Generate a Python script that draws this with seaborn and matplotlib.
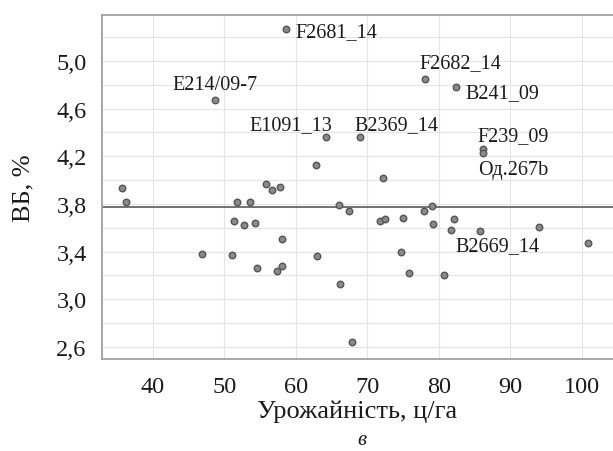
import numpy as np
import pandas as pd
import matplotlib
matplotlib.use("Agg")
import matplotlib.pyplot as plt
from matplotlib.ticker import MultipleLocator, FixedLocator, FuncFormatter
import seaborn as sns

# labelled varieties first, then the unlabelled ones
names = ["F2681_14", "E214/09-7", "E1091_13", "B2369_14", "F2682_14",
         "B241_09", "F239_09", "Од.267b", "B2669_14"] + [""] * 36

yield_x = [58.6, 48.7, 64.2, 68.9, 78.0, 82.4, 86.1, 86.15, 85.8,
           35.6, 36.2, 46.8, 51.0, 51.3, 51.7, 52.8, 53.6, 54.3, 54.55,
           55.85, 56.7, 57.8, 58.1, 57.4, 58.0, 62.8, 63.0, 66.0, 66.1,
           67.4, 67.9, 72.2, 71.75, 72.4, 74.7, 75.0, 75.8, 77.9, 79.0,
           79.2, 80.7, 81.7, 82.1, 94.0, 100.8]

vb_y = [5.27, 4.67, 4.36, 4.36, 4.85, 4.78, 4.26, 4.23, 3.57,
        3.93, 3.82, 3.38, 3.37, 3.66, 3.815, 3.62, 3.815, 3.64, 3.26,
        3.97, 3.92, 3.94, 3.51, 3.24, 3.28, 4.13, 3.36, 3.79, 3.13,
        3.74, 2.64, 4.02, 3.66, 3.67, 3.40, 3.685, 3.22, 3.74, 3.78,
        3.63, 3.20, 3.585, 3.67, 3.61, 3.47]

mean_vb = 3.773

x_ticks = [40, 50, 60, 70, 80, 90, 100]
y_ticks = [2.6, 3.0, 3.4, 3.8, 4.2, 4.6, 5.0]

# label placement (offset in points, horizontal alignment)
label_pos = {
    "F2681_14": (6.5, -2, "left"),
    "E214/09-7": (0, 11.5, "center"),
    "E1091_13": (4.5, 8.8, "right"),
    "B2369_14": (-3.8, 9, "left"),
    "F2682_14": (-4.1, 11.5, "left"),
    "B241_09": (6.8, -3.8, "left"),
    "F239_09": (-3.4, 9.6, "left"),
    "Од.267b": (-3.8, -12, "left"),
    "B2669_14": (-18.2, -10.1, "left"),
}

df = pd.DataFrame({"x": yield_x, "y": vb_y, "name": names})

sns.set_style("white")
plt.rcParams["font.family"] = ["Liberation Serif", "DejaVu Serif"]

fig = plt.figure(figsize=(6.13, 4.52), dpi=100)
ax = fig.add_axes([0.1664, 0.2035, 0.8336, 0.7611])

ax.axhline(mean_vb, color="#5a5a5a", lw=1.2, zorder=2)
sns.scatterplot(data=df, x="x", y="y", ax=ax, s=22, color="#8a8a8a",
                edgecolor="#555555", linewidth=1.0, zorder=3)

for _, r in df[df["name"] != ""].iterrows():
    dx, dy, ha = label_pos[r["name"]]
    ax.annotate(r["name"], (r["x"], r["y"]), xytext=(dx, dy),
                textcoords="offset points", ha=ha, va="center",
                fontsize=14.5, color="#1a1a1a")

ax.set_xlim(32.87, 104.34)
ax.set_ylim(2.499, 5.386)
ax.xaxis.set_major_locator(FixedLocator(x_ticks))
ax.yaxis.set_major_locator(FixedLocator(y_ticks))
ax.yaxis.set_minor_locator(MultipleLocator(0.2))
ax.yaxis.set_major_formatter(FuncFormatter(lambda v, p: f"{v:.1f}".replace(".", ",")))

ax.grid(True, which="major", color="#e4e4e4", lw=0.8)
ax.grid(True, which="minor", axis="y", color="#e4e4e4", lw=0.8)
ax.set_axisbelow(True)

for side in ["left", "bottom", "top"]:
    ax.spines[side].set_color("#a0a0a0")
    ax.spines[side].set_linewidth(1.3)
ax.spines["right"].set_visible(False)

ax.tick_params(axis="both", which="both", direction="in", color="#a0a0a0",
               length=3, labelsize=17.5, labelcolor="#1a1a1a")
ax.tick_params(axis="y", pad=11)
ax.tick_params(axis="x", pad=12)

ax.set_xlabel("Урожайність, ц/га", fontsize=19, color="#1a1a1a", labelpad=2)
ax.set_ylabel("ВБ, %", fontsize=19, color="#1a1a1a", labelpad=16)
fig.text(0.59, 1 - 441 / 452, "в", fontsize=15, style="italic",
         ha="center", va="center", color="#1a1a1a")

fig.savefig("out.png", dpi=100)
